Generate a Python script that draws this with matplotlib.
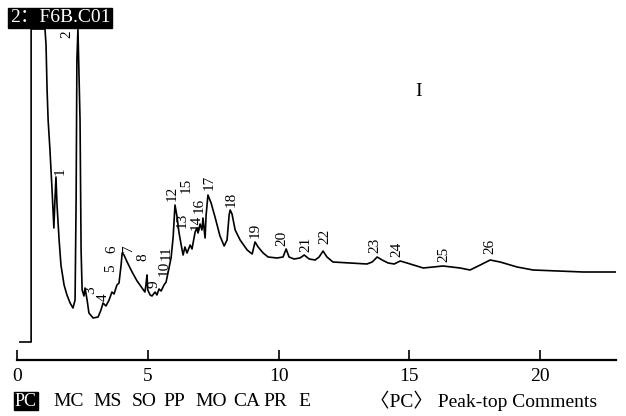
import matplotlib
matplotlib.use("Agg")
import matplotlib.pyplot as plt

# chromatogram trace, time (min) vs detector response (arbitrary units)
t = [0.11, 0.54, 0.54, 1.07, 1.11, 1.15, 1.19, 1.26, 1.34, 1.41, 1.45, 1.49, 1.53, 1.61,
     1.68, 1.80, 1.91, 2.03, 2.14, 2.22, 2.26, 2.29, 2.33, 2.41, 2.45, 2.49, 2.56, 2.60,
     2.68, 2.75, 2.91, 3.10, 3.21, 3.29, 3.40, 3.52, 3.63, 3.71, 3.82, 3.90, 3.98, 4.02,
     4.09, 4.21, 4.40, 4.59, 4.78, 4.89, 4.93, 4.97, 5.00, 5.09, 5.16, 5.28, 5.35, 5.43,
     5.51, 5.62, 5.70, 5.77, 5.89, 5.97, 6.04, 6.12, 6.19, 6.27, 6.35, 6.42, 6.50, 6.62,
     6.69, 6.81, 6.88, 6.92, 7.00, 7.07, 7.11, 7.19, 7.23, 7.30, 7.42, 7.57, 7.76, 7.92,
     8.03, 8.11, 8.15, 8.22, 8.34, 8.53, 8.80, 8.99, 9.10, 9.22, 9.41, 9.60, 9.94, 10.17,
     10.29, 10.40, 10.59, 10.82, 10.98, 11.17, 11.40, 11.55, 11.70, 11.85, 12.08, 12.73,
     13.38, 13.58, 13.77, 13.96, 14.19, 14.42, 14.65, 14.91, 15.53, 16.29, 16.94, 17.32,
     17.71, 18.09, 18.47, 19.12, 19.73, 20.65, 21.64, 22.87]
signal = [18, 18, 331, 331, 315, 270, 240, 210, 170, 132, 160, 183, 155, 120,
          95, 75, 65, 57, 52, 60, 160, 300, 331, 240, 110, 70, 64, 72,
          60, 47, 42, 43, 50, 57, 54, 60, 68, 66, 75, 77, 95, 107,
          105, 98, 88, 79, 72, 68, 75, 85, 70, 65, 64, 68, 65, 71,
          69, 75, 78, 87, 102, 123, 155, 143, 128, 116, 105, 113, 107, 115,
          111, 128, 132, 127, 136, 130, 142, 122, 145, 165, 157, 143, 124, 114,
          120, 145, 150, 146, 130, 120, 110, 106, 118, 113, 107, 103, 102, 103,
          111, 103, 101, 102, 105, 101, 100, 103, 109, 103, 98, 97,
          96, 98, 103, 100, 97, 96, 99, 97, 92, 94, 92, 90,
          95, 100, 98, 93, 90, 89, 88, 88]

# peak-top comments
peak_labels = [str(i) for i in range(1, 27)]
label_t = [1.64, 1.91, 2.83, 3.29, 3.59, 3.63, 4.28, 4.82, 5.24, 5.62, 5.70, 5.93, 6.30,
           6.86, 6.46, 6.96, 7.33, 8.18, 9.10, 10.13, 11.05, 11.78, 13.69, 14.53, 16.33, 18.09]
label_y = [189, 326, 70, 63, 92, 111, 112, 103, 76, 92, 107, 167, 140,
           138, 175, 155, 178, 161, 130, 122, 116, 124, 115, 111, 106, 114]

xticks = [0, 5, 10, 15, 20]
legend_items = ["MC", "MS", "SO", "PP", "MO", "CA", "PR", "E"]
legend_x = [53, 93, 132, 163, 195, 233, 263, 298]

serif = ["Liberation Serif", "Noto Sans CJK SC", "DejaVu Sans"]
plt.rcParams["font.family"] = serif

fig = plt.figure(figsize=(6.26, 4.16), dpi=100)
ax = fig.add_axes([17 / 626, 56 / 416, 599 / 626, 332 / 416])
ax.plot(t, signal, color="black", lw=1.2, clip_on=False)
ax.set_xlim(0, 22.9)
ax.set_ylim(0, 332)

for s in ["top", "left", "right"]:
    ax.spines[s].set_visible(False)
ax.spines["bottom"].set_linewidth(1.6)
ax.set_yticks([])
ax.set_xticks(xticks)
ax.set_xticklabels([str(v) for v in xticks], fontsize=14)
ax.tick_params(axis="x", direction="in", length=7, width=1.2, pad=6)

for lab, lx, ly in zip(peak_labels, label_t, label_y):
    ax.text(lx, ly, lab, rotation=90, fontsize=11, ha="center", va="center")

ax.text(15.35, 269, "I", fontsize=14, ha="center", va="center")

fig.text(10 / 626, 1 - 18 / 416, "2：F6B.C01", color="white", fontsize=14,
         ha="left", va="center",
         bbox=dict(facecolor="black", edgecolor="black", boxstyle="square,pad=0.1"))
fig.text(15 / 626, 1 - 401 / 416, "PC", color="white", fontsize=13,
         ha="left", va="center",
         bbox=dict(facecolor="black", edgecolor="black", boxstyle="square,pad=0.05"))
for item, lx in zip(legend_items, legend_x):
    fig.text(lx / 626, 1 - 401 / 416, item, fontsize=14, ha="left", va="center")
fig.text(370 / 626, 1 - 401 / 416, "〈PC〉 Peak-top Comments", fontsize=14,
         ha="left", va="center")

fig.savefig("out.png", dpi=100)
